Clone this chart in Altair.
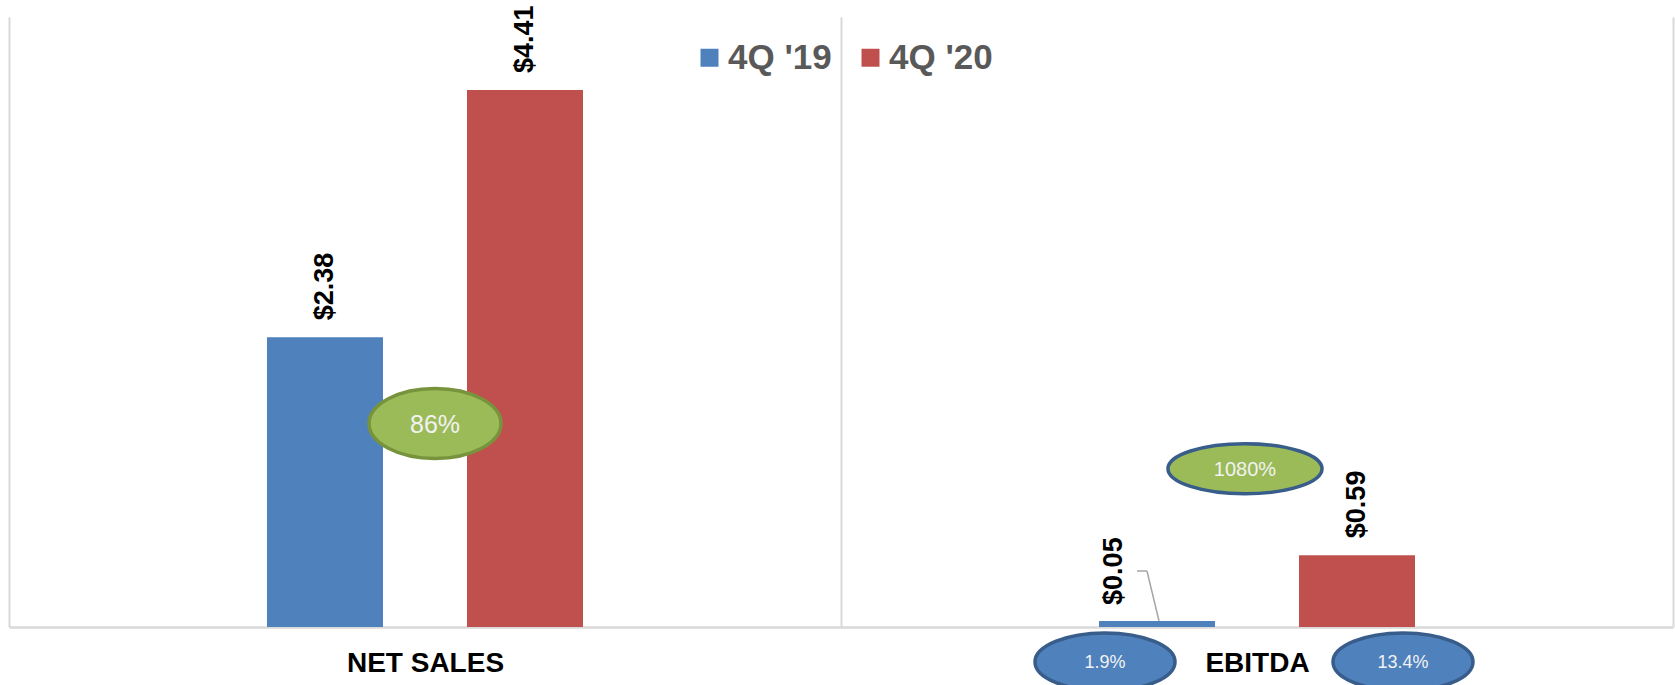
import altair as alt
import pandas as pd

# ---- data ----
categories = ["NET SALES", "EBITDA"]
periods = ["4Q '19", "4Q '20"]
values_4q19 = [2.38, 0.05]
values_4q20 = [4.41, 0.59]
labels_4q19 = ["$2.38", "$0.05"]
labels_4q20 = ["$4.41", "$0.59"]
growth_labels = ["86%", "1080%"]          # growth bubbles (NET SALES, EBITDA)
margin_labels = ["1.9%", "13.4%"]         # EBITDA margin bubbles (4Q '19, 4Q '20)

rows = []
for c, v, l in zip(categories, values_4q19, labels_4q19):
    rows.append({"category": c, "period": periods[0], "value": v, "label": l})
for c, v, l in zip(categories, values_4q20, labels_4q20):
    rows.append({"category": c, "period": periods[1], "value": v, "label": l})
df = pd.DataFrame(rows)

FONT = "Liberation Sans"
BLUE, RED, GREEN = "#4F81BD", "#C0504D", "#9BBB59"
OLIVE, NAVY = "#77933C", "#385D8A"
GRID = "#D9D9D9"

x_enc = alt.X(
    "category:N", sort=categories, title=None,
    scale=alt.Scale(domain=categories, paddingInner=0, paddingOuter=0),
    axis=alt.Axis(labelAngle=0, labelFont=FONT, labelFontSize=28, labelFontWeight="bold",
                  labelColor="#000000", ticks=False, tickSize=0, labelPadding=44,
                  labelBaseline="alphabetic", domainColor=GRID, domainWidth=2.5,
                  grid=True, gridColor=GRID, gridWidth=2, tickBand="extent"),
)
# empty slots on either side of the two bars give the wide gap around each group
offset_slots = ["_left", periods[0], periods[1], "_right"]
xoff_enc = alt.XOffset("period:N",
                       scale=alt.Scale(domain=offset_slots, paddingInner=0.42, paddingOuter=0.29))
y_enc = alt.Y("value:Q", title=None, axis=None,
              scale=alt.Scale(domain=[0, 5.01], nice=False, zero=True))

base = alt.Chart(df)

bars = base.mark_bar().encode(
    x=x_enc, xOffset=xoff_enc, y=y_enc,
    color=alt.Color("period:N", sort=periods,
                    scale=alt.Scale(domain=periods, range=[BLUE, RED]),
                    legend=alt.Legend(title=None, orient="none", legendX=683, legendY=23,
                                      direction="horizontal", symbolType="square",
                                      symbolSize=324, symbolStrokeWidth=0, symbolOpacity=1,
                                      labelFont=FONT, labelFontSize=35, labelFontWeight="bold",
                                      labelColor="#595959", labelOffset=1, columnPadding=21,
                                      padding=0, labelLimit=400)),
)

lbl_props = dict(angle=270, align="left", baseline="middle", font=FONT, fontSize=27,
                 fontWeight="bold", color="#000000")
labels_main = base.transform_filter("datum.value > 0.1").mark_text(dx=17, **lbl_props).encode(
    x=x_enc, xOffset=xoff_enc, y=y_enc, text="label:N")
labels_small = base.transform_filter("datum.value <= 0.1").mark_text(dx=16, dy=-43, **lbl_props).encode(
    x=x_enc, xOffset=xoff_enc, y=y_enc, text="label:N")

one = pd.DataFrame({"k": [0]})
leader_h = alt.Chart(one).mark_rule(color="#A6A6A6", strokeWidth=1.5).encode(
    x=alt.value(1128), x2=alt.value(1138), y=alt.value(554))
leader_s = alt.Chart(one).mark_rule(color="#A6A6A6", strokeWidth=1.5).encode(
    x=alt.value(1138), x2=alt.value(1150), y=alt.value(554), y2=alt.value(604))


def ellipse_path(ratio):
    k = 0.5523
    r = ratio
    return (f"M -1 0 C -1 {-k*r:.4f} {-k:.4f} {-r:.4f} 0 {-r:.4f} "
            f"C {k:.4f} {-r:.4f} 1 {-k*r:.4f} 1 0 "
            f"C 1 {k*r:.4f} {k:.4f} {r:.4f} 0 {r:.4f} "
            f"C {-k:.4f} {r:.4f} -1 {k*r:.4f} -1 0 Z")


def bubble(text, cat, yval, xoff, w, h, fill, stroke, fsize):
    d = alt.Chart(pd.DataFrame({"t": [text]}))
    enc = dict(x=alt.X(datum=cat, type="nominal", title=None),
               y=alt.Y(datum=yval, type="quantitative", title=None))
    shape = d.mark_point(shape=ellipse_path(h / w), size=w * w, filled=True, fill=fill,
                         stroke=stroke, strokeWidth=3.5, opacity=1, fillOpacity=1,
                         xOffset=xoff).encode(**enc)
    txt = d.mark_text(font=FONT, fontSize=fsize, color="#F2F2F2", align="center",
                      baseline="middle", xOffset=xoff, dy=1).encode(text="t:N", **enc)
    return [shape, txt]


layers = [bars, labels_main, labels_small, leader_h, leader_s]
layers += bubble(growth_labels[0], categories[0], 1.671, 10, 132, 70, GREEN, OLIVE, 25)
layers += bubble(growth_labels[1], categories[1], 1.30, -12, 154, 50, GREEN, NAVY, 20)
layers += bubble(margin_labels[0], categories[1], -0.287, -152, 140, 58, BLUE, NAVY, 18)
layers += bubble(margin_labels[1], categories[1], -0.287, 146, 140, 58, BLUE, NAVY, 18)

chart = alt.layer(*layers).properties(
    width=1664, height=610,
    padding={"left": 9, "top": 17, "right": 2, "bottom": 58},
    autosize=alt.AutoSizeParams(type="none"),
    background="#FFFFFF",
).configure_view(stroke=None)

chart.save("out.html", embed_options={"renderer": "svg", "actions": False})
